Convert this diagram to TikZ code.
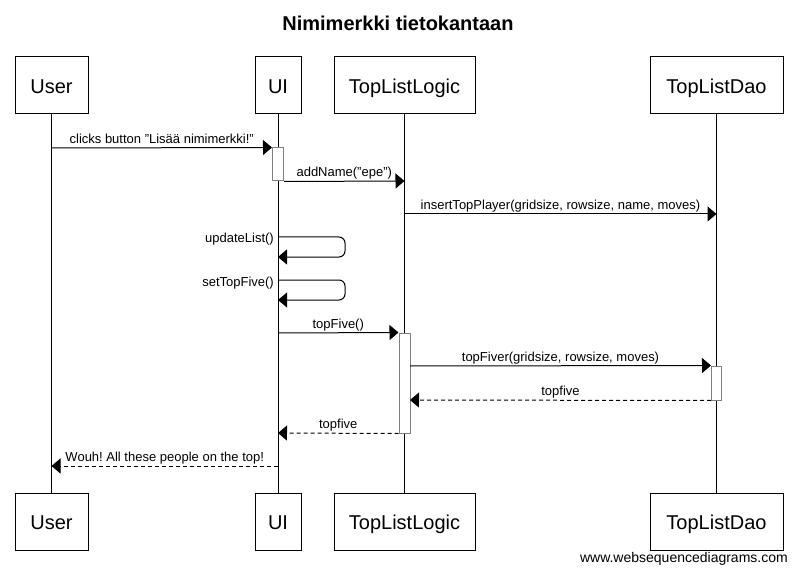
\documentclass[tikz,border=0pt]{standalone}
\usepackage{fontspec}
\setmainfont{Liberation Sans}
\usetikzlibrary{arrows.meta}
\frenchspacing
\tikzset{
  actor/.style={draw,line width=1pt,minimum height=57pt,inner sep=0pt,text height=16pt,text depth=0pt,font=\fontsize{20}{24}\selectfont},
  activation/.style={draw=black!50,fill=white,line width=1pt,inner sep=0pt},
  lifeline/.style={line width=1pt},
  msg/.style={line width=1pt,-{Triangle[length=9pt,width=15pt]}},
  reply/.style={msg,dash pattern=on 4pt off 3pt},
  msglabel/.style={font=\fontsize{13}{15}\selectfont,inner sep=1.5pt,text depth=2.5pt,above}
}
\begin{document}
\begin{tikzpicture}[x=1pt,y=-1pt]
  \useasboundingbox (0,0) rectangle (796,575);
  \node[anchor=base,font=\bfseries\fontsize{20}{24}\selectfont] (title) at (398,31) {Nimimerkki tietokantaan};
  % participants
  \node[actor,minimum width=73pt] (user) at (51.5,85.5) {User};
  \node[actor,minimum width=46pt] (ui) at (278,85.5) {UI};
  \node[actor,minimum width=141pt] (logic) at (404.5,85.5) {TopListLogic};
  \node[actor,minimum width=133pt] (dao) at (716.5,85.5) {TopListDao};
  \node[actor,minimum width=73pt] (userB) at (51.5,521.5) {User};
  \node[actor,minimum width=46pt] (uiB) at (278,521.5) {UI};
  \node[actor,minimum width=141pt] (logicB) at (404.5,521.5) {TopListLogic};
  \node[actor,minimum width=133pt] (daoB) at (716.5,521.5) {TopListDao};
  \draw[lifeline] (user) -- (userB);
  \draw[lifeline] (ui) -- (uiB);
  \draw[lifeline] (logic) -- (logicB);
  \draw[lifeline] (dao) -- (daoB);
  % activations
  \node[activation,minimum width=11pt,minimum height=33pt] (actUI) at (278,164.5) {};
  \node[activation,minimum width=11pt,minimum height=100pt] (actLogic) at (404.5,383) {};
  \node[activation,minimum width=10pt,minimum height=34pt] (actDao) at (716.5,383) {};
  % points on the lifelines
  \coordinate (u1) at (51.5,148);
  \coordinate (u2) at (51.5,466);
  \coordinate (l1) at (404.5,181);
  \coordinate (l2) at (404.5,214);
  \coordinate (d1) at (716.5,214);
  \coordinate (ui1) at (278,237);
  \coordinate (ui2) at (278,257);
  \coordinate (ui3) at (278,280);
  \coordinate (ui4) at (278,300);
  \coordinate (ui5) at (278,333);
  \coordinate (ui6) at (278,433);
  \coordinate (ui7) at (278,466);
  \coordinate (l3) at (410,366);
  \coordinate (l4) at (410,400);
  % messages
  \draw[msg] (u1) -- (actUI.north west) node[msglabel,midway] {clicks button \symbol{34}Lisää nimimerkki!\symbol{34}};
  \draw[msg] (actUI.south east) -- (l1) node[msglabel,midway] {addName(\symbol{34}epe\symbol{34})};
  \draw[msg] (l2) -- (d1) node[msglabel,midway] {insertTopPlayer(gridsize, rowsize, name, moves)};
  \draw[msg,rounded corners=6pt] (ui1) -- ++(67,0) |- (ui2);
  \node[anchor=base east,font=\fontsize{13}{15}\selectfont,inner sep=0pt] (lblUpdate) at (274,243) {updateList()};
  \draw[msg,rounded corners=6pt] (ui3) -- ++(67,0) |- (ui4);
  \node[anchor=base east,font=\fontsize{13}{15}\selectfont,inner sep=0pt] (lblSet) at (274,286) {setTopFive()};
  \draw[msg] (ui5) -- (actLogic.north west) node[msglabel,midway] {topFive()};
  \draw[msg] (l3) -- (actDao.north west) node[msglabel,midway] {topFiver(gridsize, rowsize, moves)};
  \draw[reply] (actDao.south west) -- (l4) node[msglabel,midway] {topfive};
  \draw[reply] (actLogic.south west) -- (ui6) node[msglabel,midway] {topfive};
  \draw[reply] (ui7) -- (u2) node[msglabel,midway] {Wouh! All these people on the top!};
  \node[anchor=east,font=\fontsize{14}{16}\selectfont,inner sep=0pt] (credit) at (788,559) {www.websequencediagrams.com};
\end{tikzpicture}
\end{document}
